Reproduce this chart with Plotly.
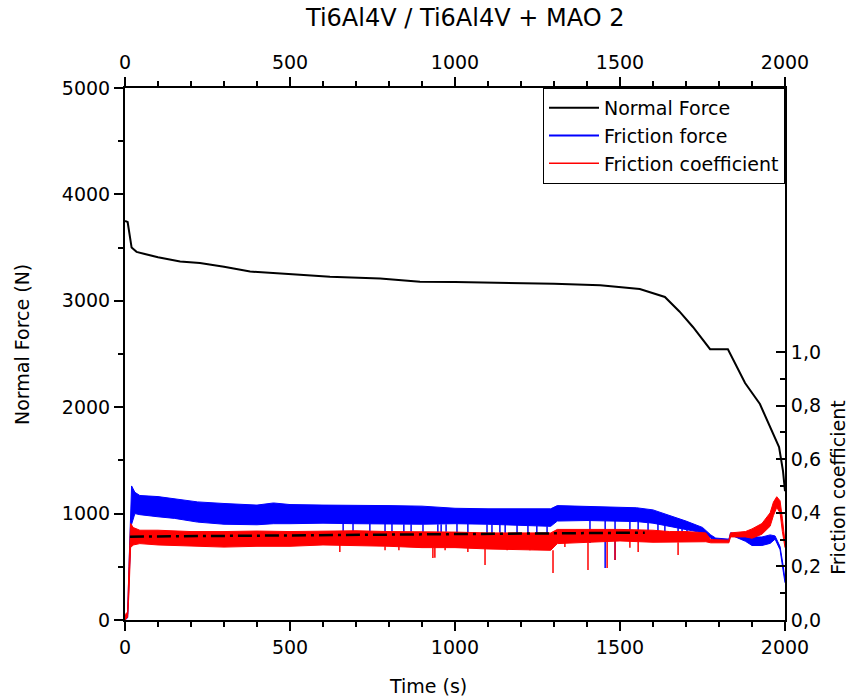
import numpy as np
import plotly.graph_objects as go

# Normal force (N) vs time (s)
nf_t = [0, 8, 20, 35, 60, 100, 167, 227, 300, 379, 530, 621, 773, 894, 1000, 1136, 1300,
        1440, 1500, 1560, 1636, 1680, 1721, 1773, 1827, 1879, 1924, 1964, 1982, 1994, 2000]
nf_v = [3750, 3740, 3500, 3460, 3440, 3410, 3370, 3355, 3320, 3275, 3245, 3225, 3210, 3180,
        3177, 3170, 3160, 3145, 3130, 3110, 3036, 2900, 2754, 2545, 2545, 2227, 2030, 1739,
        1626, 1400, 1210]

# Friction force (N): upper / lower edge of the noisy band
ff_t = [0, 8, 14, 20, 30, 45, 100, 150, 220, 300, 400, 450, 500, 600, 700, 800, 900, 1000,
        1100, 1290, 1310, 1400, 1500, 1550, 1600, 1650, 1700, 1750, 1775, 1790, 1830, 1835,
        1880, 1900, 1930, 1955, 1970, 1985, 1995, 2000]
ff_hi = [30, 60, 700, 1260, 1200, 1170, 1160, 1140, 1110, 1095, 1080, 1100, 1085, 1080, 1080,
         1075, 1070, 1050, 1045, 1045, 1075, 1070, 1060, 1055, 1035, 985, 930, 870, 800, 770,
         760, 820, 790, 780, 780, 800, 790, 690, 500, 380]
ff_lo = [0, 20, 500, 900, 1000, 990, 970, 955, 920, 900, 895, 905, 905, 910, 905, 900, 900,
         905, 900, 880, 930, 935, 930, 925, 910, 880, 850, 820, 770, 745, 740, 800, 740, 700,
         700, 720, 760, 660, 450, 350]
# downward spikes of the friction force: time, band edge, tip
ffs_t = [661, 691, 742, 788, 809, 845, 867, 903, 948, 958, 973, 1006, 1039, 1097, 1112, 1136,
         1152, 1188, 1221, 1248, 1279, 1409, 1455, 1485, 1530, 1555, 1585, 1615, 1636, 1676,
         1688, 1703]
ffs_from = [910, 910, 905, 905, 905, 900, 900, 900, 900, 900, 900, 905, 905, 900, 900, 900,
            900, 895, 890, 885, 880, 935, 930, 930, 925, 925, 915, 905, 890, 865, 860, 850]
ffs_to = [827, 830, 830, 820, 830, 827, 830, 820, 827, 820, 830, 818, 800, 760, 800, 820, 790,
          810, 780, 800, 760, 724, 489, 564, 800, 790, 800, 790, 800, 780, 790, 800]

# Friction coefficient: upper / lower edge of the noisy band
mu_t = [0, 8, 12, 17, 25, 45, 100, 200, 300, 400, 500, 600, 700, 800, 900, 1000, 1100, 1290,
        1310, 1400, 1500, 1600, 1650, 1700, 1760, 1775, 1830, 1835, 1880, 1900, 1930, 1955,
        1965, 1975, 1985, 1992, 2000]
mu_hi = [0.02, 0.03, 0.2, 0.36, 0.345, 0.335, 0.335, 0.33, 0.33, 0.332, 0.33, 0.332, 0.333,
         0.33, 0.33, 0.328, 0.325, 0.325, 0.338, 0.338, 0.338, 0.335, 0.33, 0.33, 0.325, 0.30,
         0.298, 0.325, 0.33, 0.34, 0.36, 0.40, 0.44, 0.46, 0.445, 0.38, 0.29]
mu_lo = [0.0, 0.01, 0.1, 0.27, 0.28, 0.285, 0.28, 0.275, 0.272, 0.275, 0.275, 0.28, 0.278,
         0.275, 0.27, 0.27, 0.265, 0.26, 0.285, 0.29, 0.295, 0.29, 0.29, 0.29, 0.292, 0.288,
         0.288, 0.31, 0.31, 0.305, 0.32, 0.35, 0.39, 0.42, 0.40, 0.33, 0.27]
mus_t = [651, 788, 830, 933, 939, 970, 1006, 1039, 1091, 1158, 1227, 1297, 1333, 1403, 1461,
         1485, 1530, 1555, 1676]
mus_from = [0.28, 0.275, 0.275, 0.27, 0.27, 0.27, 0.27, 0.27, 0.268, 0.266, 0.264, 0.26, 0.29,
            0.29, 0.295, 0.295, 0.295, 0.292, 0.29]
mus_to = [0.254, 0.26, 0.26, 0.231, 0.232, 0.26, 0.269, 0.254, 0.205, 0.26, 0.26, 0.175, 0.272,
          0.187, 0.194, 0.224, 0.27, 0.254, 0.243]

# mean friction coefficient (dash-dot line)
mean_t = [15, 1575]
mean_mu = [0.311, 0.326]

x_ticks = [0, 500, 1000, 1500, 2000]
y_ticks = [0, 1000, 2000, 3000, 4000, 5000]
mu_ticks = [0.0, 0.2, 0.4, 0.6, 0.8, 1.0]
mu_labels = ["0,0", "0,2", "0,4", "0,6", "0,8", "1,0"]

FONT = "DejaVu Sans"
BLUE = "#0000ff"
RED = "#ff0000"


def spikes(t, a, b):
    xs, ys = [], []
    for ti, ai, bi in zip(t, a, b):
        xs += [ti, ti, None]
        ys += [ai, bi, None]
    return xs, ys


fig = go.Figure()

# friction force band (left axis)
fig.add_trace(go.Scatter(x=ff_t, y=ff_lo, mode="lines", line=dict(color=BLUE, width=1),
                         showlegend=False, hoverinfo="skip"))
fig.add_trace(go.Scatter(x=ff_t, y=ff_hi, mode="lines", line=dict(color=BLUE, width=1),
                         fill="tonexty", fillcolor=BLUE, showlegend=False, hoverinfo="skip"))
sx, sy = spikes(ffs_t, ffs_from, ffs_to)
fig.add_trace(go.Scatter(x=sx, y=sy, mode="lines", line=dict(color=BLUE, width=1.5),
                         showlegend=False, hoverinfo="skip"))

# normal force
fig.add_trace(go.Scatter(x=nf_t, y=nf_v, mode="lines", line=dict(color="black", width=2),
                         showlegend=False))

# friction coefficient band (right axis)
fig.add_trace(go.Scatter(x=mu_t, y=mu_lo, mode="lines", line=dict(color=RED, width=1),
                         yaxis="y2", showlegend=False, hoverinfo="skip"))
fig.add_trace(go.Scatter(x=mu_t, y=mu_hi, mode="lines", line=dict(color=RED, width=1),
                         fill="tonexty", fillcolor=RED, yaxis="y2", showlegend=False,
                         hoverinfo="skip"))
sx, sy = spikes(mus_t, mus_from, mus_to)
fig.add_trace(go.Scatter(x=sx, y=sy, mode="lines", line=dict(color=RED, width=1.5),
                         yaxis="y2", showlegend=False, hoverinfo="skip"))
fig.add_trace(go.Scatter(x=mean_t, y=mean_mu, mode="lines", yaxis="y2",
                         line=dict(color="black", width=2.5, dash="14px,5px,3px,5px"),
                         showlegend=False))

# top axis carrier
fig.add_trace(go.Scatter(x=[0, 2000], y=[None, None], xaxis="x2", showlegend=False,
                         hoverinfo="skip"))

# legend entries
for name, col, w in [("Normal Force", "black", 2), ("Friction force", BLUE, 2),
                     ("Friction coefficient", RED, 1.5)]:
    fig.add_trace(go.Scatter(x=[None], y=[None], mode="lines", name=name,
                             line=dict(color=col, width=w)))

tick_common = dict(showgrid=False, zeroline=False, showline=True, linecolor="black",
                   linewidth=2, tickcolor="black", tickwidth=1.5, ticklen=9, automargin=False,
                   tickfont=dict(family=FONT, size=19, color="black"))

fig.update_layout(
    width=851, height=700,
    margin=dict(l=125, r=66, t=88, b=80, autoexpand=False),
    plot_bgcolor="white", paper_bgcolor="white",
    font=dict(family=FONT, size=19, color="black"),
    xaxis=dict(range=[0, 2000], tickvals=x_ticks, ticks="outside",
               minor=dict(dtick=100, ticks="outside", ticklen=5, tickcolor="black", tickwidth=1.5),
               **tick_common),
    xaxis2=dict(range=[0, 2000], overlaying="x", side="top", tickvals=x_ticks, ticks="outside",
                minor=dict(dtick=100, ticks="outside", ticklen=5, tickcolor="black", tickwidth=1.5),
                **tick_common),
    yaxis=dict(range=[0, 5000], tickvals=y_ticks, ticks="outside",
               minor=dict(dtick=500, ticks="outside", ticklen=5, tickcolor="black", tickwidth=1.5),
               **tick_common),
    yaxis2=dict(range=[0, 532 / 268], overlaying="y", side="right", tickvals=mu_ticks,
                ticktext=mu_labels, ticks="inside",
                minor=dict(tickvals=[0.1, 0.3, 0.5, 0.7, 0.9], ticks="inside", ticklen=5,
                           tickcolor="black", tickwidth=1.5),
                **tick_common),
    legend=dict(x=1, y=1, xanchor="right", yanchor="top", bgcolor="white",
                bordercolor="black", borderwidth=1, font=dict(family=FONT, size=19),
                traceorder="normal", tracegroupgap=0, itemwidth=50),
    annotations=[
        dict(text="Ti6Al4V / Ti6Al4V + MAO 2", x=0.515, y=1.1316, xref="paper", yref="paper",
             xanchor="center", yanchor="middle", showarrow=False,
             font=dict(family=FONT, size=24)),
        dict(text="Normal Force (N)", x=-0.156, y=0.517, xref="paper", yref="paper",
             xanchor="center", yanchor="middle", textangle=-90, showarrow=False,
             font=dict(family=FONT, size=19)),
        dict(text="Time (s)", x=0.459, y=-0.124, xref="paper", yref="paper",
             xanchor="center", yanchor="middle", showarrow=False,
             font=dict(family=FONT, size=19)),
        dict(text="Friction coefficient", x=1.080, y=0.25, xref="paper", yref="paper",
             xanchor="center", yanchor="middle", textangle=-90, showarrow=False,
             font=dict(family=FONT, size=19)),
    ],
)

# drop the default 8px page margin so the figure sits at the window corner
fig.write_html("out.html", config={"displayModeBar": False},
               post_script="document.body.style.margin = '0';")
